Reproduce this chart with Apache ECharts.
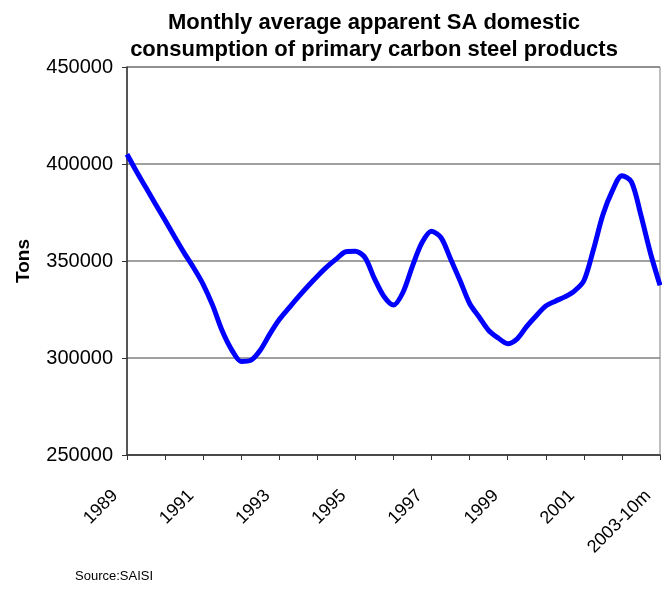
<!DOCTYPE html>
<html>
<head>
<meta charset="utf-8">
<script src="https://cdn.jsdelivr.net/npm/echarts@6/dist/echarts.min.js"></script>
<style>
  html, body { margin: 0; padding: 0; background: #fff; }
  #chart { width: 662px; height: 590px; }
</style>
</head>
<body>
<div id="chart"></div>
<script>
// quarterly readings, 1989 to 2003-10m
var years = ['1989', '1991', '1993', '1995', '1997', '1999', '2001', '2003-10m'];
var tons = [
  405000, 396100, 387700, 379300, 371000, 362500, 354200, 346500,
  338000, 327100, 314000, 304200, 298200, 298800, 304000, 312300,
  319800, 325700, 331500, 337000, 342200, 347000, 351100, 354800,
  355000, 351800, 340900, 331700, 327300, 333900, 347500, 359500,
  365300, 362000, 351000, 339800, 328100, 321100, 314200, 310300,
  307400, 309900, 316300, 321800, 326800, 329300, 331500, 334500,
  339800, 355800, 373800, 386300, 394000, 390800, 373500, 354000,
  337500
];
var yTicks = [250000, 300000, 350000, 400000, 450000];

var quarters = tons.map(function (v, i) { return 'q' + i; });

var chart = echarts.init(document.getElementById('chart'));
var font = 'Liberation Sans, Arial, sans-serif';

chart.setOption({
  animation: false,
  title: {
    text: 'Monthly average apparent SA domestic\nconsumption of primary carbon steel products',
    left: 369,
    top: 4,
    textAlign: 'center',
    textStyle: {
      fontFamily: font,
      fontSize: 22,
      fontWeight: 'bold',
      color: '#000',
      lineHeight: 27
    }
  },
  graphic: [{
    type: 'text',
    left: 75,
    top: 570,
    style: { text: 'Source:SAISI', fontFamily: font, fontSize: 13, fill: '#000' }
  }],
  grid: {
    left: 127,
    right: 2,
    top: 67,
    bottom: 135,
    show: true,
    borderColor: '#808080',
    borderWidth: 1
  },
  xAxis: {
    type: 'category',
    data: quarters,
    boundaryGap: false,
    axisLine: { lineStyle: { color: '#333', width: 1.5 } },
    axisTick: { interval: 3, length: 5, lineStyle: { color: '#333' } },
    axisLabel: {
      interval: 7,
      rotate: 45,
      margin: 26,
      padding: [0, 17, 0, 0],
      fontFamily: font,
      fontSize: 18,
      color: '#000',
      formatter: function (v, i) { return years[i / 8]; }
    },
    splitLine: { show: false }
  },
  yAxis: {
    type: 'value',
    min: yTicks[0],
    max: yTicks[yTicks.length - 1],
    interval: 50000,
    name: 'Tons',
    nameLocation: 'middle',
    nameRotate: 90,
    nameGap: 94,
    nameTextStyle: { fontFamily: font, fontSize: 19, fontWeight: 'bold', color: '#000' },
    axisLine: { show: true, lineStyle: { color: '#333', width: 1.5 } },
    axisTick: { show: true, length: 5, lineStyle: { color: '#333' } },
    axisLabel: {
      margin: 14,
      fontFamily: font,
      fontSize: 20,
      color: '#000',
      formatter: function (v) { return String(v); }
    },
    splitLine: { lineStyle: { color: '#808080', width: 1.5 } }
  },
  series: [{
    type: 'line',
    data: tons,
    symbol: 'none',
    smooth: 0.3,
    lineStyle: { color: '#0000ff', width: 5 }
  }]
});
</script>
</body>
</html>
